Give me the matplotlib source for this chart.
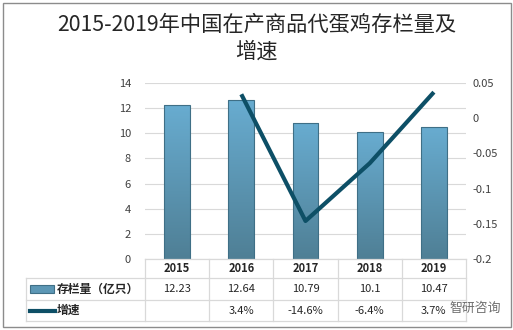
import numpy as np
import matplotlib
matplotlib.use("Agg")
import matplotlib.pyplot as plt
from matplotlib.patches import Rectangle
from matplotlib.lines import Line2D

plt.rcParams['font.family'] = ['Noto Sans CJK SC', 'DejaVu Sans']

# data
years = ["2015", "2016", "2017", "2018", "2019"]
stock = [12.23, 12.64, 10.79, 10.1, 10.47]
stock_labels = ["12.23", "12.64", "10.79", "10.1", "10.47"]
growth = [None, 0.034, -0.146, -0.064, 0.037]
growth_labels = ["", "3.4%", "-14.6%", "-6.4%", "3.7%"]
left_ticks = [0, 2, 4, 6, 8, 10, 12, 14]
right_ticks = [-0.2, -0.15, -0.1, -0.05, 0, 0.05]
right_tick_labels = ["-0.2", "-0.15", "-0.1", "-0.05", "0", "0.05"]

W, H = 513, 330
fig = plt.figure(figsize=(W / 100, H / 100), dpi=100)


def fx(px):
    return px / W


def fy(py):
    return 1 - py / H


# outer border
fig.patches.append(Rectangle((fx(2.5), fy(327)), fx(508), fy(2.5) - fy(327),
                             transform=fig.transFigure, fill=False, edgecolor="#8c8c8c", lw=1.0))

fig.text(0.5, fy(25), "2015-2019年中国在产商品代蛋鸡存栏量及", ha="center", va="center",
         fontsize=15.3, color="#262626")
fig.text(0.5, fy(52), "增速", ha="center", va="center", fontsize=15.3, color="#262626")

x0, x1, ytop, ybot = 145, 466, 83, 259
ax = fig.add_axes([fx(x0), fy(ybot), fx(x1 - x0), fy(ytop) - fy(ybot)])
ax2 = ax.twinx()

x = np.arange(len(years))
ax.set_yticks(left_ticks)
for t in left_ticks:
    ax.axhline(t, color="#d9d9d9", lw=0.8, zorder=0)

# gradient bars
grad = np.linspace(0, 1, 256).reshape(-1, 1)
cmap = matplotlib.colors.LinearSegmentedColormap.from_list("bar", ["#4f7f95", "#68acd0"])
bw = 0.4
for xi, v in zip(x, stock):
    rect = Rectangle((xi - bw / 2, 0), bw, v, facecolor="none", edgecolor="#3f6f86", lw=0.8, zorder=3)
    ax.add_patch(rect)
    im = ax.imshow(grad, extent=(xi - bw / 2, xi + bw / 2, 0, v), origin="lower", cmap=cmap,
                   aspect="auto", zorder=2)
    im.set_clip_path(rect)
ax.set_xlim(-0.5, len(years) - 0.5)
ax.set_ylim(0, 14)

gx = [xi for xi, g in zip(x, growth) if g is not None]
gy = [g for g in growth if g is not None]
ax2.plot(gx, gy, color="#0d4f66", lw=3, solid_capstyle="butt", zorder=5)
ax2.set_ylim(-0.2, 0.05)
ax2.set_yticks(right_ticks)
ax2.set_yticklabels(right_tick_labels)

for a in (ax, ax2):
    for s in a.spines.values():
        s.set_visible(False)
    a.tick_params(length=0, labelsize=8, colors="#404040")
ax.tick_params(axis="y", pad=10)
ax2.tick_params(axis="y", pad=5)
ax.set_xticks([])

# data table below the plot
lc = "#d9d9d9"
rows = [259, 278, 300, 321]
cols = [x0 + (x1 - x0) * i / len(years) for i in range(len(years) + 1)]
tleft = 26


def hline(py, xa, xb):
    fig.add_artist(Line2D([fx(xa), fx(xb)], [fy(py), fy(py)], color=lc, lw=0.9))


def vline(px, ya, yb):
    fig.add_artist(Line2D([fx(px), fx(px)], [fy(ya), fy(yb)], color=lc, lw=0.9))


hline(rows[0], x0, x1)
for r in rows[1:]:
    hline(r, tleft, x1)
vline(tleft, rows[1], rows[3])
for c in cols:
    vline(c, rows[0], rows[3])

for i, c in enumerate(cols[:-1]):
    cx = fx(c + (cols[1] - cols[0]) / 2)
    fig.text(cx, fy((rows[0] + rows[1]) / 2), years[i], ha="center", va="center",
             fontsize=8, fontweight="bold", color="#262626")
    fig.text(cx, fy((rows[1] + rows[2]) / 2), stock_labels[i], ha="center", va="center",
             fontsize=8, color="#262626")
    fig.text(cx, fy((rows[2] + rows[3]) / 2), growth_labels[i], ha="center", va="center",
             fontsize=8, color="#262626")

# legend keys inside table
fig.patches.append(Rectangle((fx(30), fy(293)), fx(24), fy(285) - fy(293),
                             transform=fig.transFigure, facecolor="#5c97b5", edgecolor="#3f6f86", lw=0.8))
fig.add_artist(Line2D([fx(30), fx(55)], [fy(310.5), fy(310.5)], color="#0d4f66", lw=3))
fig.text(fx(57), fy(289), "存栏量（亿只）", ha="left", va="center", fontsize=8.5,
         fontweight="bold", color="#262626")
fig.text(fx(57), fy(310.5), "增速", ha="left", va="center", fontsize=8.5,
         fontweight="bold", color="#262626")

# watermark
fig.text(fx(449), fy(308), "智研咨询", ha="left", va="center", fontsize=9.3, color="#6e6e6e")

fig.savefig("out.png", dpi=100)
